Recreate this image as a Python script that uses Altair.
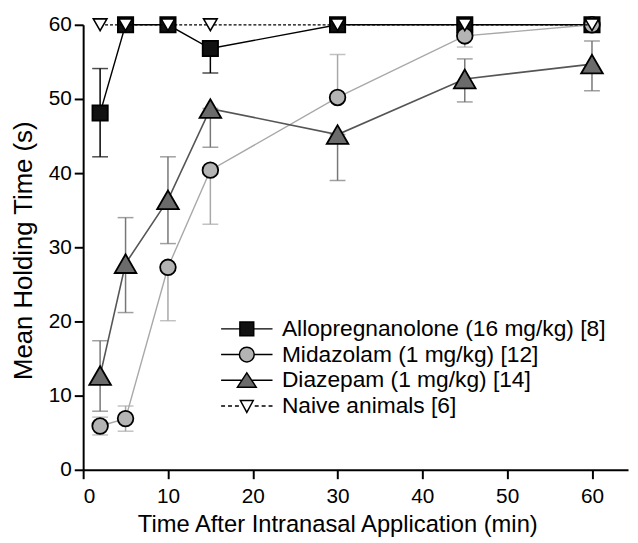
import altair as alt
import pandas as pd

# ---- data ----
times = [2, 5, 10, 15, 30, 45, 60]
series_names = [
    "Allopregnanolone (16 mg/kg) [8]",
    "Midazolam (1 mg/kg) [12]",
    "Diazepam (1 mg/kg) [14]",
    "Naive animals [6]",
]
allo_mean = [48.1, 60, 60, 56.8, 60, 60, 60]
allo_lo = [42.2, 60, 60, 53.5, 60, 60, 60]
allo_hi = [54.1, 60, 60, 56.8, 60, 60, 60]

mid_mean = [5.9, 6.9, 27.3, 40.4, 50.2, 58.5, 60]
mid_lo = [4.7, 5.2, 20.1, 33.1, 50.2, 57.0, 60]
mid_hi = [7.1, 8.6, 27.3, 40.4, 56.0, 58.5, 60]

diaz_mean = [12.7, 27.8, 36.4, 48.7, 45.2, 52.7, 54.7]
diaz_lo = [7.9, 21.2, 30.5, 43.5, 39.0, 49.6, 51.1]
diaz_hi = [17.4, 34.0, 42.2, 48.7, 45.2, 55.4, 57.8]

naive_mean = [60, 60, 60, 60, 60, 60, 60]

x_ticks = [0, 10, 20, 30, 40, 50, 60]
y_ticks = [0, 5, 10, 15, 20, 25, 30, 35, 40, 45, 50, 55, 60]  # labelled every 10

# ---- styles ----
FONT = "Liberation Sans"
fills = ["#111111", "#b4b4b4", "#6b6b6b", "#ffffff"]
line_colors = ["#000000", "#a8a8a8", "#555555", "#000000"]
err_colors = ["#000000", "#a8a8a8", "#777777", "#000000"]
shapes = ["square", "circle", "triangle-up", "triangle-down"]
sizes = [240, 250, 480, 190]

legend_paths = [
    "M-2.6,0H-0.7M0.7,0H2.6M-0.7,-0.7H0.7V0.7H-0.7Z",
    "M-2.6,0H-0.75M0.75,0H2.6M0.75,0A0.75,0.75 0 1,1 -0.75,0A0.75,0.75 0 1,1 0.75,0Z",
    "M-2.6,0H-0.55M0.55,0H2.6M0,-0.75L0.95,0.7L-0.95,0.7Z",
    "M-2.6,0H-2.2M-1.9,0H-1.5M-1.2,0H-0.8M0.8,0H1.2M1.5,0H1.9M2.2,0H2.6M-0.65,-0.55L0.65,-0.55L0,0.65Z",
]

rows = []
for name, m, lo, hi in [
    (series_names[0], allo_mean, allo_lo, allo_hi),
    (series_names[1], mid_mean, mid_lo, mid_hi),
    (series_names[2], diaz_mean, diaz_lo, diaz_hi),
    (series_names[3], naive_mean, naive_mean, naive_mean),
]:
    for t, a, b, c in zip(times, m, lo, hi):
        rows.append({"series": name, "t": t, "mean": a, "lo": b, "hi": c})
df = pd.DataFrame(rows)

xscale = alt.Scale(domain=[0, 64.25], nice=False, zero=False)
yscale = alt.Scale(domain=[0, 60], nice=False)

X = alt.X("t:Q", scale=xscale,
          axis=alt.Axis(values=x_ticks, title="Time After Intranasal Application (min)",
                        titleX=257, titleAlign="center", titleFontSize=24,
                        labelPadding=7, titlePadding=6))
Y = alt.Y("mean:Q", scale=yscale,
          axis=alt.Axis(values=y_ticks, title="Mean Holding Time (s)", titleFontSize=26,
                        titleY=228, titleAlign="center",
                        labelExpr="datum.value % 10 == 0 ? datum.label : ''",
                        tickSize={"condition": {"test": "datum.value % 10 == 0", "value": 9},
                                  "value": 6},
                        labelPadding=3, titlePadding=12))

base = alt.Chart(df)
layers = []

for i, name in enumerate(series_names):
    sub = base.transform_filter(alt.datum.series == name)
    if i < 3:
        bars = sub.mark_rule(color=err_colors[i], strokeWidth=1.5).encode(
            x=X, y=alt.Y("lo:Q", scale=yscale), y2="hi:Q")
        cap_lo = sub.mark_tick(color=err_colors[i], orient="horizontal", size=16,
                               thickness=1.5).encode(x=X, y=alt.Y("lo:Q", scale=yscale))
        cap_hi = sub.mark_tick(color=err_colors[i], orient="horizontal", size=16,
                               thickness=1.5).encode(x=X, y=alt.Y("hi:Q", scale=yscale))
        layers += [bars, cap_lo, cap_hi]
    line_kw = dict(color=line_colors[i], strokeWidth=1.4 if i != 2 else 1.6)
    if i == 3:
        line_kw["strokeDash"] = [3, 2]
        line_kw["strokeWidth"] = 1.3
    line = sub.mark_line(**line_kw).encode(x=X, y=Y)
    pts = sub.mark_point(shape=shapes[i], filled=True, fill=fills[i], stroke="black",
                         strokeWidth=1.8 if i < 3 else 1.6, size=sizes[i],
                         opacity=1).encode(x=X, y=Y)
    layers += [line, pts]

leg = alt.Legend(title=None, orient="none", legendX=154, legendY=296,
                 labelFontSize=23, labelFont=FONT, labelColor="black", labelLimit=0,
                 labelOffset=24, rowPadding=2, symbolSize=400, symbolStrokeWidth=1.5,
                 symbolOpacity=1)

# legend layer (draws nothing, only defines the legend)
legend_layer = base.transform_filter("false").mark_point(
    filled=True, strokeWidth=1.5, size=400, opacity=1
).encode(
    x=X, y=Y,
    shape=alt.Shape("series:N", scale=alt.Scale(domain=series_names, range=legend_paths),
                    legend=leg),
    fill=alt.Fill("series:N", scale=alt.Scale(domain=series_names, range=fills), legend=leg),
    stroke=alt.Stroke("series:N", scale=alt.Scale(domain=series_names,
                                                  range=["black"] * 4), legend=leg),
)
layers.append(legend_layer)

chart = alt.layer(*layers).properties(
    width=551, height=450,
    autosize=alt.AutoSizeParams(type="none"),
    padding={"left": 76, "top": 14, "right": 2, "bottom": 66},
).configure_view(stroke=None).configure_axis(
    domainColor="black", domainWidth=2, tickColor="black", tickWidth=2, tickSize=9,
    labelFont=FONT, labelFontSize=21, labelColor="black",
    titleFont=FONT, titleFontWeight="normal", titleColor="black",
    grid=False,
)

chart.save("out.html", embed_options={"renderer": "svg", "actions": False})
